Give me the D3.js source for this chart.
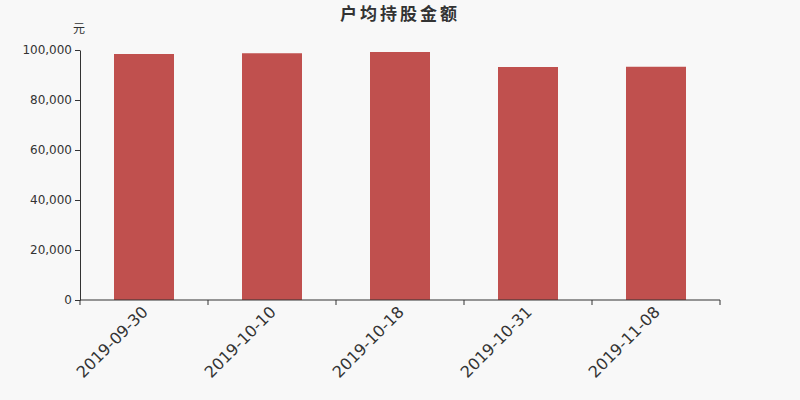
<!DOCTYPE html>
<html>
<head>
<meta charset="utf-8">
<script src="https://cdn.jsdelivr.net/npm/d3@7"></script>
<style>
  body { margin: 0; background: #f8f8f8; }
  text { font-family: "DejaVu Sans", "Noto Sans CJK SC", sans-serif; }
</style>
</head>
<body>
<div id="chart"></div>
<script>
// chart data
const dates = ["2019-09-30", "2019-10-10", "2019-10-18", "2019-10-31", "2019-11-08"];
const values = [98400, 98700, 99200, 93200, 93300];
const yTicks = [0, 20000, 40000, 60000, 80000, 100000];

const margin = { top: 50, right: 80, bottom: 100, left: 80 };
const width = 800 - margin.left - margin.right;
const height = 400 - margin.top - margin.bottom;

const svg = d3.select("#chart").append("svg")
  .attr("width", 800)
  .attr("height", 400)
  .style("background", "#f8f8f8");

// title and unit
svg.append("text")
  .attr("x", 400)
  .attr("y", 20)
  .attr("text-anchor", "middle")
  .attr("font-size", 17)
  .attr("font-weight", "bold")
  .attr("letter-spacing", 3)
  .attr("fill", "#333")
  .text("户均持股金额");

svg.append("text")
  .attr("x", 79)
  .attr("y", 33)
  .attr("text-anchor", "middle")
  .attr("font-size", 12)
  .attr("fill", "#333")
  .text("元");

const g = svg.append("g")
  .attr("transform", "translate(" + margin.left + "," + margin.top + ")");

const x = d3.scaleBand()
  .domain(dates)
  .range([0, width])
  .paddingInner(0.53125)
  .paddingOuter(0.265625);

const y = d3.scaleLinear()
  .domain([0, 100000])
  .range([height, 0]);

// bars
g.selectAll("rect.bar")
  .data(dates.map((d, i) => ({ key: d, value: values[i] })))
  .enter().append("rect")
  .attr("class", "bar")
  .attr("x", d => x(d.key))
  .attr("y", d => y(d.value))
  .attr("width", x.bandwidth())
  .attr("height", d => height - y(d.value))
  .attr("fill", "#c0504e");

// y axis
const yAxis = g.append("g")
  .call(d3.axisLeft(y).tickValues(yTicks).tickSize(5).tickSizeOuter(0).tickFormat(d3.format(",")));
yAxis.select(".domain").attr("stroke", "#333");
yAxis.selectAll(".tick line").attr("stroke", "#333");
yAxis.selectAll(".tick text")
  .attr("font-size", 12)
  .attr("fill", "#333")
  .attr("x", -8)
  .style("font-family", "DejaVu Sans");

// x axis: ticks on band boundaries
const xAxis = g.append("g")
  .attr("transform", "translate(0," + height + ")");
xAxis.append("line")
  .attr("x1", 0).attr("x2", width)
  .attr("stroke", "#333");
const step = x.step();
const bounds = d3.range(dates.length + 1).map(i => i * step);
xAxis.selectAll("line.tick")
  .data(bounds)
  .enter().append("line")
  .attr("class", "tick")
  .attr("x1", d => d).attr("x2", d => d)
  .attr("y1", 0).attr("y2", 5)
  .attr("stroke", "#333");
xAxis.selectAll("text.label")
  .data(dates)
  .enter().append("text")
  .attr("class", "label")
  .attr("text-anchor", "end")
  .attr("font-size", 16)
  .attr("fill", "#333")
  .attr("transform", d => "translate(" + (x(d) + x.bandwidth() / 2 + 5) + ",13) rotate(-45)")
  .text(d => d);
</script>
</body>
</html>
